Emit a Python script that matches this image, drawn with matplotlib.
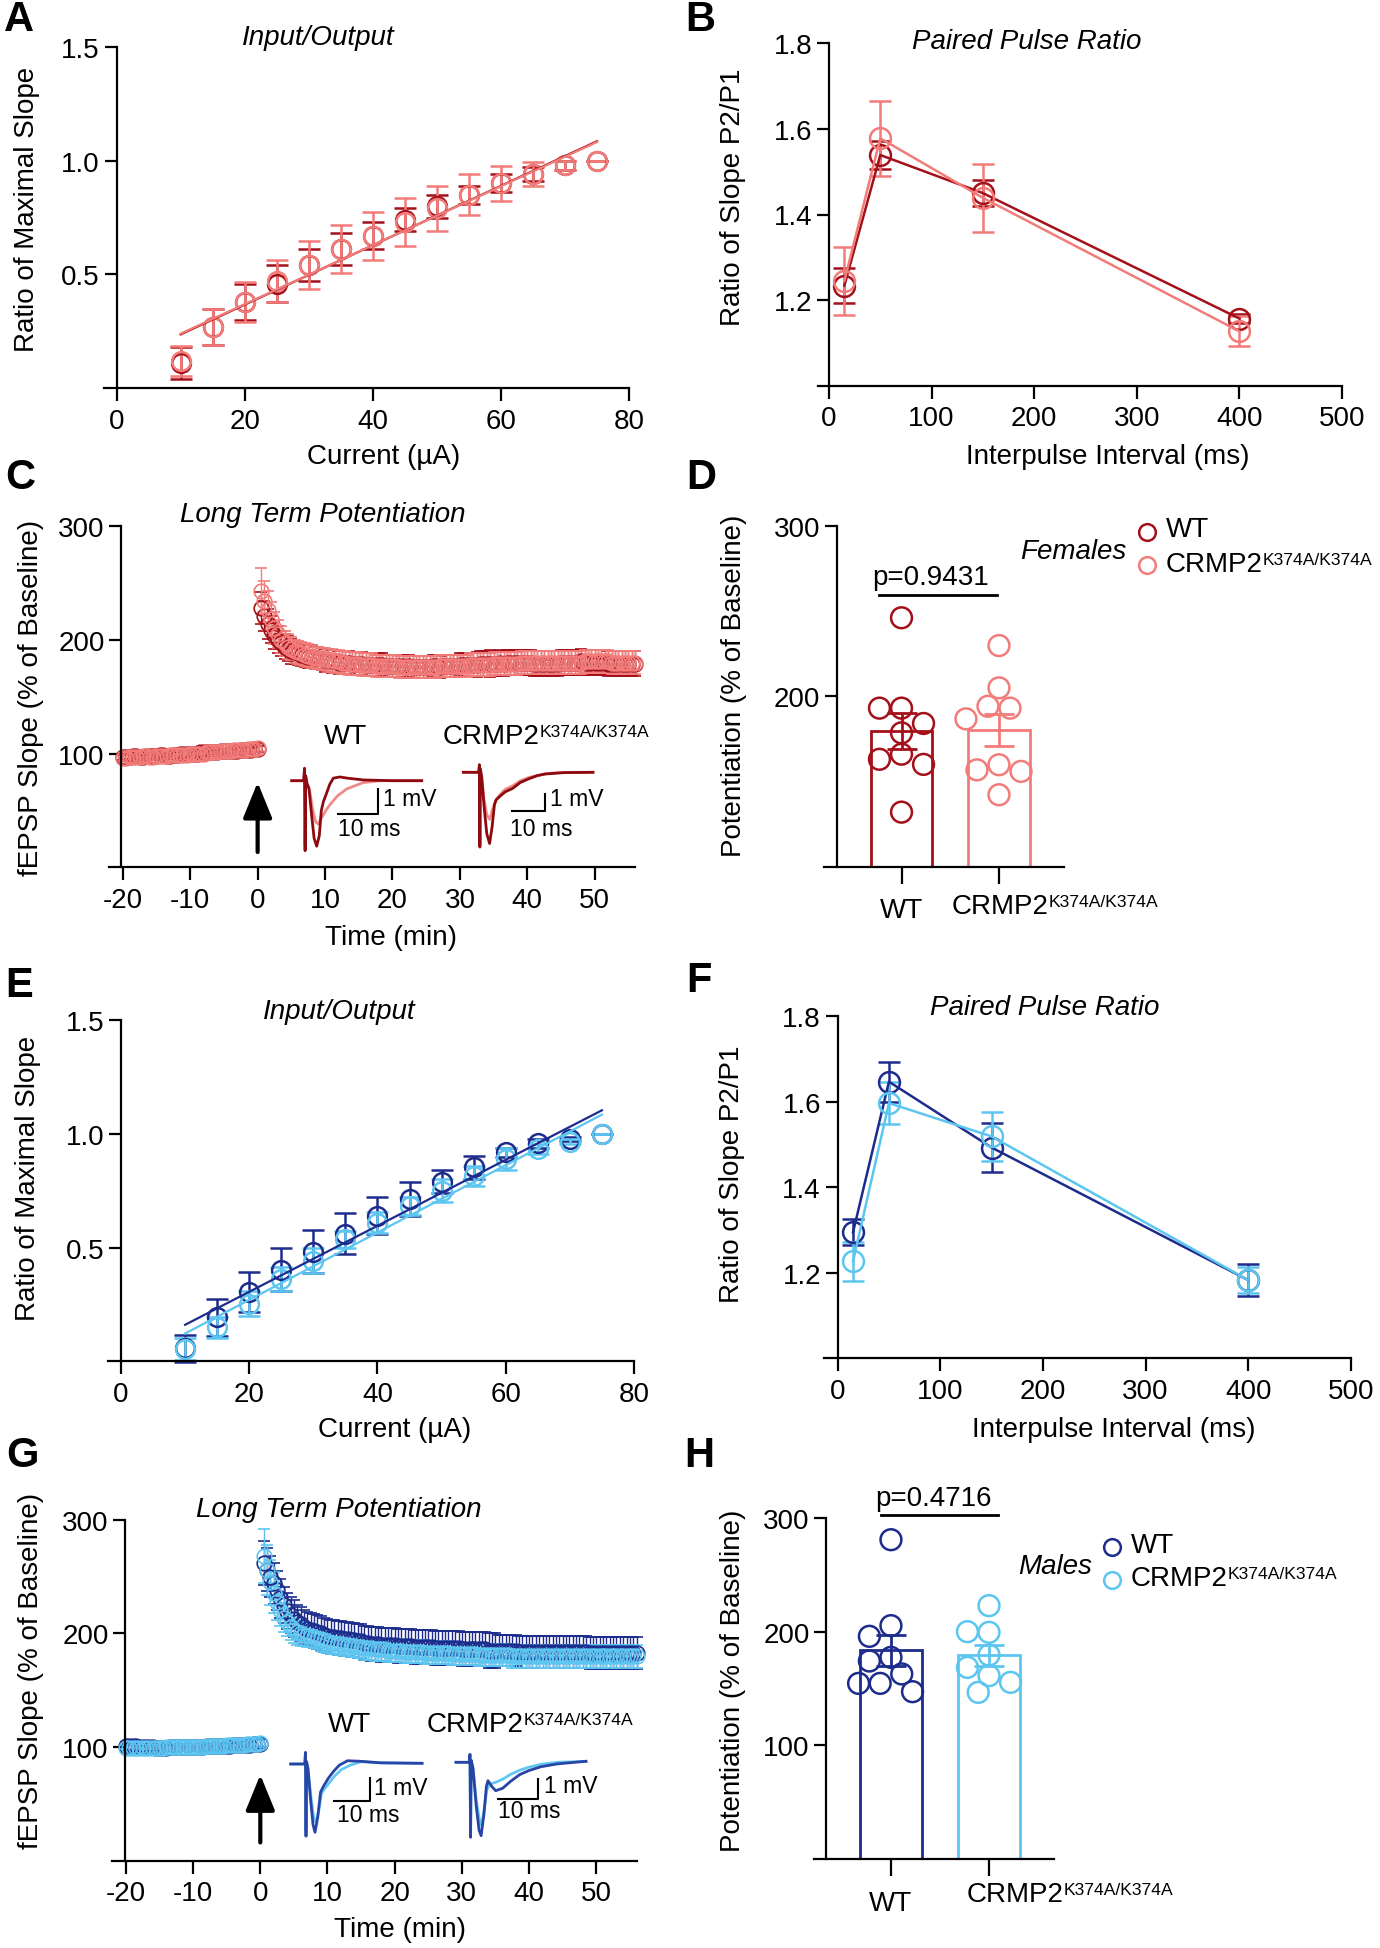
import numpy as np
import matplotlib
matplotlib.use('Agg')
import matplotlib.pyplot as plt
from matplotlib.transforms import Affine2D

plt.rcParams['font.family'] = ['Liberation Sans', 'DejaVu Sans']
plt.rcParams['axes.unicode_minus'] = False

# ---------------- data ----------------
io_current = [10, 15, 20, 25, 30, 35, 40, 45, 50, 55, 60, 65, 70, 75]
fem_io_wt = [0.11, 0.27, 0.38, 0.46, 0.54, 0.61, 0.67, 0.74, 0.80, 0.85, 0.90, 0.94, 0.98, 1.00]
fem_io_wt_sem = [0.07, 0.08, 0.08, 0.08, 0.07, 0.07, 0.06, 0.05, 0.05, 0.04, 0.04, 0.03, 0.02, 0.0]
fem_io_ko = [0.12, 0.27, 0.38, 0.47, 0.54, 0.61, 0.67, 0.73, 0.79, 0.85, 0.90, 0.94, 0.98, 1.00]
fem_io_ko_sem = [0.067, 0.08, 0.088, 0.092, 0.106, 0.105, 0.105, 0.104, 0.10, 0.09, 0.078, 0.053, 0.02, 0.0]

male_io_wt = [0.057, 0.193, 0.303, 0.403, 0.482, 0.56, 0.64, 0.713, 0.789, 0.852, 0.918, 0.958, 0.977, 1.0]
male_io_wt_sem = [0.058, 0.08, 0.088, 0.095, 0.093, 0.09, 0.082, 0.073, 0.05, 0.05, 0.02, 0.02, 0.01, 0.0]
male_io_ko = [0.054, 0.149, 0.252, 0.362, 0.442, 0.537, 0.61, 0.684, 0.75, 0.815, 0.889, 0.933, 0.965, 1.0]
male_io_ko_sem = [0.048, 0.046, 0.055, 0.051, 0.055, 0.037, 0.048, 0.04, 0.05, 0.044, 0.048, 0.02, 0.01, 0.0]

ppr_interval = [15, 50, 150, 400]
fem_ppr_wt = [1.234, 1.539, 1.450, 1.157]
fem_ppr_wt_sem = [0.04, 0.033, 0.03, 0.01]
fem_ppr_ko = [1.245, 1.578, 1.439, 1.127]
fem_ppr_ko_sem = [0.08, 0.087, 0.08, 0.035]
male_ppr_wt = [1.295, 1.647, 1.493, 1.183]
male_ppr_wt_sem = [0.03, 0.047, 0.057, 0.037]
male_ppr_ko = [1.227, 1.597, 1.519, 1.183]
male_ppr_ko_sem = [0.046, 0.049, 0.058, 0.03]

# LTP time courses, one sweep every 30 s: baseline -20..0 min, post-tetanus 0.5..56 min
base_t = np.arange(-20, 0.01, 0.5)
post_t = np.arange(0.5, 56.01, 0.5)

fem_base_wt = [97, 97, 97, 98, 98, 97, 97, 98, 98, 98,
               98, 99, 99, 98, 98, 99, 99, 100, 100, 100,
               100, 100, 100, 101, 101, 101, 101, 101, 101, 102,
               102, 102, 102, 102, 102, 103, 103, 103, 103, 104,
               104]
fem_base_wt_sem = [3, 3, 2, 3, 3, 3, 2, 3, 3, 3,
                   3, 2, 3, 3, 3, 3, 2, 3, 3, 3,
                   3, 3, 2, 3, 3, 3, 3, 2, 3, 3,
                   3, 3, 2, 3, 3, 3, 3, 3, 2, 3,
                   3]
fem_base_ko = [96, 96, 97, 97, 97, 97, 98, 98, 97, 97,
               98, 98, 98, 98, 99, 99, 99, 99, 99, 99,
               100, 100, 100, 100, 100, 101, 101, 101, 101, 102,
               102, 102, 102, 103, 103, 103, 103, 104, 104, 104,
               105]
fem_base_ko_sem = [3, 3, 3, 2, 3, 3, 3, 3, 2, 3,
                   3, 3, 3, 2, 3, 3, 3, 3, 3, 2,
                   3, 3, 3, 3, 2, 3, 3, 3, 3, 3,
                   2, 3, 3, 3, 3, 3, 2, 3, 3, 3,
                   3]
fem_post_wt = [228, 221, 214, 209, 204, 200, 197, 194, 192, 190,
               189, 188, 187, 186, 185, 185, 184, 184, 183, 182,
               182, 181, 181, 180, 180, 180, 180, 179, 179, 179,
               179, 178, 178, 178, 178, 178, 178, 177, 177, 177,
               177, 177, 177, 176, 177, 176, 176, 176, 176, 176,
               176, 177, 177, 176, 177, 177, 177, 177, 177, 178,
               178, 178, 178, 178, 178, 179, 179, 179, 179, 179,
               179, 180, 179, 180, 180, 180, 180, 180, 180, 180,
               180, 179, 179, 179, 179, 179, 179, 179, 179, 180,
               180, 180, 180, 180, 180, 181, 180, 180, 180, 180,
               180, 180, 180, 179, 179, 179, 179, 179, 179, 179,
               179, 179]
fem_post_wt_sem = [14, 13, 13, 12, 12, 12, 11, 11, 11, 11,
                   10, 10, 10, 10, 10, 10, 10, 10, 10, 10,
                   10, 10, 10, 10, 10, 10, 10, 10, 10, 10,
                   10, 10, 10, 10, 10, 10, 10, 10, 10, 10,
                   10, 10, 10, 10, 10, 10, 10, 10, 10, 10,
                   10, 10, 10, 10, 10, 10, 10, 10, 10, 10,
                   10, 10, 10, 10, 11, 11, 11, 11, 12, 11,
                   11, 11, 11, 11, 11, 11, 11, 11, 11, 11,
                   11, 11, 11, 11, 11, 11, 11, 11, 11, 11,
                   11, 11, 11, 11, 11, 11, 11, 11, 11, 11,
                   11, 11, 11, 11, 11, 11, 11, 11, 11, 11,
                   11, 11]
fem_post_ko = [243, 234, 226, 218, 210, 205, 200, 197, 194, 192,
               190, 189, 188, 187, 186, 185, 184, 184, 183, 183,
               182, 182, 181, 181, 180, 180, 179, 179, 179, 179,
               178, 178, 178, 178, 177, 177, 177, 177, 177, 177,
               177, 176, 176, 176, 176, 176, 176, 176, 176, 176,
               176, 176, 176, 177, 177, 177, 177, 177, 177, 177,
               177, 177, 178, 178, 178, 178, 178, 178, 178, 179,
               179, 179, 179, 179, 179, 179, 179, 180, 180, 180,
               180, 180, 180, 180, 180, 180, 180, 180, 180, 180,
               180, 180, 180, 180, 180, 180, 181, 181, 181, 181,
               181, 181, 181, 181, 180, 180, 180, 180, 180, 180,
               180, 180]
fem_post_ko_sem = [20, 18, 17, 15, 14, 12, 12, 11, 11, 10,
                   10, 10, 10, 10, 10, 10, 10, 10, 10, 10,
                   10, 10, 10, 10, 10, 10, 10, 10, 10, 10,
                   10, 10, 10, 10, 10, 10, 10, 10, 10, 10,
                   10, 10, 10, 10, 10, 10, 10, 10, 10, 10,
                   10, 10, 10, 10, 10, 10, 10, 10, 10, 10,
                   10, 10, 10, 10, 10, 10, 10, 10, 10, 10,
                   10, 10, 10, 10, 10, 10, 10, 10, 10, 10,
                   10, 10, 10, 10, 10, 10, 10, 10, 10, 10,
                   10, 10, 10, 10, 10, 10, 10, 10, 10, 10,
                   10, 10, 10, 10, 10, 10, 10, 10, 10, 10,
                   10, 10]

male_base_wt = [101, 101, 101, 101, 100, 100, 100, 100, 100, 99,
                99, 99, 99, 100, 100, 100, 100, 100, 100, 100,
                100, 100, 100, 100, 101, 101, 101, 101, 101, 101,
                101, 101, 102, 102, 102, 102, 102, 102, 103, 103,
                103]
male_base_wt_sem = [4, 4, 3, 3, 3, 3, 3, 3, 3, 3,
                    3, 3, 3, 3, 3, 3, 3, 3, 3, 3,
                    3, 3, 3, 3, 3, 3, 3, 3, 3, 3,
                    3, 3, 3, 3, 3, 3, 3, 3, 3, 4,
                    4]
male_base_ko = [99, 99, 99, 99, 99, 99, 99, 99, 99, 99,
                99, 99, 100, 100, 100, 100, 100, 100, 100, 100,
                100, 100, 100, 100, 101, 101, 101, 101, 101, 101,
                102, 102, 102, 102, 102, 102, 103, 103, 103, 103,
                104]
male_base_ko_sem = [3, 3, 3, 3, 3, 3, 3, 3, 3, 3,
                    3, 3, 3, 3, 3, 3, 3, 3, 3, 3,
                    3, 3, 3, 3, 3, 3, 3, 3, 3, 3,
                    3, 3, 3, 3, 3, 3, 3, 3, 3, 3,
                    3]
male_post_wt = [262, 256, 250, 244, 238, 231, 225, 220, 216, 213,
                210, 208, 206, 204, 203, 202, 201, 200, 199, 198,
                197, 197, 196, 196, 195, 195, 194, 194, 193, 193,
                192, 192, 191, 191, 191, 190, 190, 190, 190, 190,
                189, 189, 189, 189, 189, 188, 188, 188, 188, 188,
                188, 187, 187, 187, 187, 187, 187, 187, 187, 186,
                186, 186, 186, 186, 186, 186, 186, 185, 185, 185,
                185, 185, 185, 185, 185, 185, 184, 184, 184, 184,
                184, 184, 184, 184, 184, 184, 184, 184, 184, 184,
                184, 184, 184, 184, 184, 184, 184, 183, 183, 183,
                183, 183, 183, 183, 183, 183, 183, 183, 183, 183,
                183, 183]
male_post_wt_sem = [19, 19, 18, 18, 17, 17, 16, 16, 16, 16,
                    15, 15, 15, 15, 15, 15, 15, 15, 15, 15,
                    15, 15, 15, 15, 15, 15, 15, 15, 15, 15,
                    15, 15, 15, 15, 15, 15, 15, 15, 15, 15,
                    15, 15, 15, 15, 15, 15, 15, 15, 15, 15,
                    15, 15, 15, 15, 15, 15, 15, 15, 15, 15,
                    15, 15, 15, 15, 15, 15, 15, 15, 15, 15,
                    14, 14, 14, 14, 14, 14, 14, 14, 14, 14,
                    14, 14, 14, 14, 14, 14, 14, 14, 14, 14,
                    14, 14, 14, 14, 14, 14, 14, 14, 14, 14,
                    14, 14, 14, 14, 14, 14, 14, 14, 14, 14,
                    14, 14]
male_post_ko = [268, 256, 245, 236, 228, 221, 214, 210, 206, 203,
                201, 200, 199, 198, 198, 197, 196, 195, 194, 193,
                192, 192, 191, 191, 190, 190, 189, 189, 188, 188,
                187, 187, 187, 186, 186, 186, 186, 185, 185, 185,
                185, 185, 184, 184, 184, 184, 184, 184, 183, 183,
                183, 183, 183, 183, 183, 183, 182, 182, 182, 182,
                182, 182, 182, 182, 181, 181, 181, 181, 181, 181,
                181, 181, 181, 181, 180, 180, 180, 180, 180, 180,
                180, 180, 180, 180, 180, 180, 180, 180, 180, 180,
                180, 180, 180, 180, 180, 180, 180, 180, 180, 180,
                180, 180, 180, 180, 180, 180, 180, 180, 180, 180,
                180, 180]
male_post_ko_sem = [24, 22, 20, 18, 16, 14, 13, 12, 12, 11,
                    11, 11, 10, 10, 10, 10, 10, 10, 10, 10,
                    10, 10, 10, 10, 10, 10, 10, 10, 10, 10,
                    10, 10, 10, 10, 10, 10, 10, 10, 10, 10,
                    10, 10, 10, 10, 10, 10, 10, 10, 10, 10,
                    10, 10, 10, 10, 10, 10, 10, 10, 10, 10,
                    10, 10, 10, 10, 10, 10, 10, 10, 10, 10,
                    10, 10, 10, 10, 10, 10, 10, 10, 10, 10,
                    10, 10, 10, 10, 10, 10, 10, 10, 10, 10,
                    10, 10, 10, 10, 10, 10, 10, 10, 10, 10,
                    10, 10, 10, 10, 10, 10, 10, 10, 10, 10,
                    10, 10]

# potentiation per slice
fem_pot_wt = [246, 193, 193, 184, 178.5, 166, 163, 160, 132]
fem_pot_ko = [229.7, 204.9, 194.1, 193, 186.7, 159.8, 156.8, 155.9, 142.2]
male_pot_wt = [280.9, 205.3, 195.9, 177.4, 174.2, 162.8, 154.5, 154.5, 147.2]
male_pot_ko = [222.9, 199.4, 200, 179.5, 168.6, 161.3, 155.4, 146.6]
p_fem = 'p=0.9431'
p_male = 'p=0.4716'

# example fEPSP traces (ms, mV)
fw_dark_t = [0, 3.0, 3.2, 3.35, 3.5, 3.8, 4.3, 5.0, 5.6, 6.25, 6.9, 7.4, 7.9, 8.6, 9.5, 10.4, 12, 14, 18, 25, 32.5]
fw_dark_v = [0, 0, 0.5, -2.8, 0.2, -0.1, -0.3, -1.4, -2.3, -2.62, -2.2, -1.2, -0.85, -0.55, -0.15, 0.1, 0.15, 0.1, 0.03, 0, 0]
fw_light_t = [0, 3.0, 3.2, 3.35, 3.5, 3.8, 4.5, 5.3, 6.0, 6.6, 7.4, 8.5, 9.6, 11.5, 13.75, 17.8, 22, 32.5]
fw_light_v = [0, 0, 0.4, -2.6, 0.1, -0.1, -0.4, -1.2, -1.65, -1.73, -1.5, -1.2, -0.95, -0.6, -0.33, -0.08, 0, 0]
fk_dark_t = [0, 4.6, 4.8, 4.95, 5.1, 5.5, 6.2, 7.0, 7.85, 8.6, 9.3, 9.8, 11, 12.5, 14.7, 17, 19.6, 22, 24.5, 30, 38.7]
fk_dark_v = [0, 0, 0.45, -4.4, 0.2, -0.3, -2.0, -3.6, -4.19, -3.2, -1.9, -1.62, -1.4, -1.15, -0.95, -0.6, -0.38, -0.2, -0.1, -0.02, 0]
fk_light_t = [0, 4.6, 4.8, 4.95, 5.1, 5.5, 6.2, 7.0, 7.9, 8.7, 9.8, 11, 12.5, 14.7, 17, 19.6, 24.5, 30, 38.7]
fk_light_v = [0, 0, 0.4, -4.2, 0.1, -0.3, -1.6, -2.5, -2.77, -2.2, -1.62, -1.3, -1.0, -0.8, -0.5, -0.3, -0.08, 0, 0]
mw_dark_t = [0, 3.9, 4.1, 4.25, 4.4, 4.8, 5.5, 6.2, 6.75, 7.5, 8.3, 9.2, 10.5, 12, 13.5, 15.8, 19, 25, 36.5]
mw_dark_v = [0, 0, 0.5, -3.1, 0.1, -0.2, -1.5, -2.6, -2.93, -2.3, -1.2, -0.93, -0.6, -0.3, -0.05, 0.14, 0.12, 0.05, 0.03]
mw_light_t = [0, 3.9, 4.1, 4.25, 4.4, 4.8, 5.6, 6.4, 7.0, 7.8, 8.5, 9.2, 10.5, 12, 14, 16.5, 19.6, 25, 36.5]
mw_light_v = [0, 0, 0.4, -2.9, 0.1, -0.2, -1.4, -2.3, -2.5, -2.0, -1.3, -1.1, -0.85, -0.55, -0.25, -0.05, 0.1, 0.05, 0.03]
mk_dark_t = [0, 3.3, 3.45, 3.6, 3.75, 4.2, 5.0, 5.7, 6.2, 6.9, 7.5, 7.9, 8.8, 9.8, 11.5, 13.5, 15.7, 17.9, 21, 25, 32.1]
mk_dark_v = [0, 0, 0.4, -3.75, 0.1, -0.3, -2.2, -3.4, -3.67, -2.6, -1.2, -0.92, -1.2, -1.42, -1.3, -0.95, -0.62, -0.42, -0.22, -0.08, 0.05]
mk_light_t = [0, 3.3, 3.45, 3.6, 3.75, 4.2, 5.0, 5.8, 6.3, 7.0, 7.6, 8.2, 9.8, 11.5, 13.5, 15.7, 17.9, 21, 25, 32.1]
mk_light_v = [0, 0, 0.35, -3.5, 0.1, -0.3, -1.9, -2.9, -3.17, -2.3, -1.4, -1.1, -1.0, -0.85, -0.6, -0.4, -0.25, -0.1, 0, 0.05]

KO_BASE, KO_SUP = 'CRMP2', 'K374A/K374A'
F_WT, F_KO = '#A3101A', '#F27C7A'
M_WT, M_KO = '#1D2C8C', '#5CC6F0'
F_WT_TR, F_KO_TR = '#8C0A10', '#F08A88'
M_WT_TR, M_KO_TR = '#2845A5', '#62C8F2'

# ---------------- figure ----------------
W, H = 1380, 1949
fig = plt.figure(figsize=(W / 100, H / 100), dpi=100)
PX = Affine2D().scale(1 / W, -1 / H).translate(0, 1) + fig.transFigure


def px_ax(l, t, r, b):
    return fig.add_axes([l / W, 1 - b / H, (r - l) / W, (b - t) / H])


def style(ax, xspine):
    for s in ('top', 'right'):
        ax.spines[s].set_visible(False)
    ax.spines['left'].set_position(('data', xspine))
    for s in ('left', 'bottom'):
        ax.spines[s].set_linewidth(1.6)
    ax.tick_params(direction='out', length=9, width=1.6, labelsize=20, pad=3)
    ax.tick_params(axis='x', pad=5)


def labels(ax, ylab, yx, yy, xlab=None, xx=None, xy=None):
    ax.set_ylabel(ylab, fontsize=20, va='center', ha='center')
    ax.yaxis.set_label_coords(yx / W, 1 - yy / H, transform=fig.transFigure)
    if xlab:
        ax.set_xlabel(xlab, fontsize=20, va='center', ha='center')
        ax.xaxis.set_label_coords(xx / W, 1 - xy / H, transform=fig.transFigure)


def title(s, x, y):
    fig.text(x, y, s, transform=PX, ha='center', va='center', fontsize=20, style='italic')


def ko_text(ax, x, y, ha='left'):
    # "CRMP2" with a small raised genotype superscript
    t = fig.text(x, y, KO_BASE, transform=PX, fontsize=20, ha=ha, va='center')
    ax.annotate(KO_SUP, xy=(1, 0.5), xycoords=t, xytext=(0, 0), textcoords='offset points',
                fontsize=12.6, ha='left', va='baseline', annotation_clip=False)


def eb(ax, x, y, e, color, ms, fmt='o', cap=8, lw=1.8, elw=1.8, mew=1.8, z=2):
    cont = ax.errorbar(x, y, yerr=e, fmt=fmt, color=color, lw=lw, ms=ms, mfc='none', mec=color,
                       mew=mew, ecolor=color, elinewidth=elw, capsize=cap, capthick=elw, zorder=z)
    for a in cont.get_children():
        a.set_clip_on(False)
    return cont


def swarm(vals, step_px, diam_px, px_per_unit):
    placed, offs = [], []
    for v in vals:
        for k in (0, -0.5, 0.5, -1, 1, -1.5, 1.5, -2, 2):
            if all(((k - k2) * step_px) ** 2 + ((v - v2) * px_per_unit) ** 2 >= diam_px ** 2
                   for k2, v2 in placed):
                break
        placed.append((k, v))
        offs.append(k)
    return np.array(offs)


def io_panel(ax, wt, wt_e, ko, ko_e, cwt, cko):
    eb(ax, io_current, wt, wt_e, cwt, 13.5)
    eb(ax, io_current, ko, ko_e, cko, 13.5)
    xs = np.array([10, 75])
    for vals, c in ((wt, cwt), (ko, cko)):
        fit = np.polyfit(io_current, vals, 1)
        ax.plot(xs, np.polyval(fit, xs), color=c, lw=1.6, zorder=3)
    ax.set_ylim(0, 1.5)
    ax.set_yticks([0.5, 1.0, 1.5])
    ax.set_xticks([0, 20, 40, 60, 80])


def ppr_panel(ax, wt, wt_e, ko, ko_e, cwt, cko):
    eb(ax, ppr_interval, wt, wt_e, cwt, 15, fmt='-o')
    eb(ax, ppr_interval, ko, ko_e, cko, 15, fmt='-o')
    ax.set_ylim(1.0, 1.8)
    ax.set_yticks([1.2, 1.4, 1.6, 1.8])
    ax.set_xticks([0, 100, 200, 300, 400, 500])


def ltp_panel(ax, series, arrow):
    for t, v, e, c in series:
        eb(ax, t, v, e, c, 10.5, cap=4, elw=1.0, mew=1.2)
    ax.set_ylim(0, 300)
    ax.set_yticks([100, 200, 300])
    ax.set_xticks(np.arange(-20, 51, 10))
    ax.annotate('', xy=(0, arrow[1]), xytext=(0, arrow[0]),
                arrowprops=dict(arrowstyle='-|>,head_width=0.45,head_length=1.1', lw=3,
                                color='k', mutation_scale=20, shrinkA=0, shrinkB=0))


def trace_inset(x0, y0, pxms, pxmv, light, dark, cl, cd, bar, mv_txt, ms_txt):
    tmin, tmax, vmin, vmax = -1, 42, -5, 1.5
    ax = px_ax(x0 + tmin * pxms, y0 - vmax * pxmv, x0 + tmax * pxms, y0 - vmin * pxmv)
    ax.set_xlim(tmin, tmax)
    ax.set_ylim(vmin, vmax)
    ax.axis('off')
    ax.plot(light[0], light[1], color=cl, lw=2.0)
    ax.plot(dark[0], dark[1], color=cd, lw=2.0)
    b0, bv = bar
    ax.plot([b0, b0 + 10, b0 + 10], [bv, bv, bv + 1], color='k', lw=1.5)
    ax.text(mv_txt[0], mv_txt[1], '1 mV', fontsize=16.5, ha='left', va='center')
    ax.text(ms_txt[0], ms_txt[1], '10 ms', fontsize=16.5, ha='left', va='center')


def pot_panel(ax, wt, ko, cwt, cko, ppx, step, ticks, ylim, ko_xy):
    for i, (vals, c) in enumerate(((wt, cwt), (ko, cko))):
        m = np.mean(vals)
        se = np.std(vals, ddof=1) / np.sqrt(len(vals))
        ax.bar(i, m, width=0.63, color='white', edgecolor=c, linewidth=2, zorder=1)
        ax.errorbar(i, m, yerr=se, fmt='none', ecolor=c, elinewidth=2, capsize=11,
                    capthick=2, zorder=2)
        offs = swarm(vals, 22, 19, ppx)
        ax.scatter(i + offs * step, vals, s=225, facecolors='none', edgecolors=c,
                   linewidths=1.8, zorder=3, clip_on=False)
    ax.set_ylim(*ylim)
    ax.set_yticks(ticks)
    ax.set_xticks([0, 1])
    ax.set_xticklabels(['WT', ''])
    ax.tick_params(axis='x', length=12, pad=10)
    ko_text(ax, ko_xy[0], ko_xy[1], ha='center')


def legend_block(ax, cx, y_wt, y_ko, tx, ty_wt, ty_ko, sex, sx, sy, cwt, cko):
    for y, c in ((y_wt, cwt), (y_ko, cko)):
        ax.plot([cx], [y], 'o', ms=12, mfc='none', mec=c, mew=1.8, clip_on=False)
    fig.text(tx, ty_wt, 'WT', transform=PX, fontsize=20, ha='left', va='center')
    ko_text(ax, tx, ty_ko)
    fig.text(sx, sy, sex, transform=PX, fontsize=20, ha='right', va='center', style='italic')


# ---- A ----
axA = px_ax(104.4, 47.7, 629, 389.3)
axA.set_xlim(-1.9, 80)
style(axA, 0)
io_panel(axA, fem_io_wt, fem_io_wt_sem, fem_io_ko, fem_io_ko_sem, F_WT, F_KO)
labels(axA, 'Ratio of Maximal Slope', 27, 209, 'Current (µA)', 384, 457)
title('Input/Output', 318, 38)

# ---- B ----
axB = px_ax(817.6, 44.3, 1342, 386.7)
axB.set_xlim(-11.1, 500)
style(axB, 0)
ppr_panel(axB, fem_ppr_wt, fem_ppr_wt_sem, fem_ppr_ko, fem_ppr_ko_sem, F_WT, F_KO)
labels(axB, 'Ratio of Slope P2/P1', 733, 197, 'Interpulse Interval (ms)', 1108, 457)
title('Paired Pulse Ratio', 1027, 42)

# ---- C ----
axC = px_ax(109.3, 527, 635.2, 868.3)
axC.set_xlim(-22.0, 56.0)
style(axC, -20.2)
ltp_panel(axC, [(base_t, fem_base_wt, fem_base_wt_sem, F_WT), (post_t, fem_post_wt, fem_post_wt_sem, F_WT),
                (base_t, fem_base_ko, fem_base_ko_sem, F_KO), (post_t, fem_post_ko, fem_post_ko_sem, F_KO)],
          (13.4, 74.6))
labels(axC, 'fEPSP Slope (% of Baseline)', 31, 698, 'Time (min)', 391, 938)
title('Long Term Potentiation', 323, 515)
fig.text(346, 737, 'WT', transform=PX, fontsize=20, ha='center', va='center')
ko_text(axC, 443, 737)
trace_inset(291.7, 781.7, 4.0, 25.0, (fw_light_t, fw_light_v), (fw_dark_t, fw_dark_v), F_KO_TR, F_WT_TR,
            (11.65, -1.33), (22.9, -0.73), (11.65, -1.93))
trace_inset(463.3, 773.3, 3.35, 17.0, (fk_light_t, fk_light_v), (fk_dark_t, fk_dark_v), F_KO_TR, F_WT_TR,
            (14.4, -2.26), (25.9, -1.57), (14.0, -3.33))

# ---- D ----
axD = px_ax(824, 526.7, 1064.4, 867.7)
axD.set_xlim(-0.795, 1.671)
style(axD, -0.665)
pot_panel(axD, fem_pot_wt, fem_pot_ko, F_WT, F_KO, 1.705, 0.226, [200, 300], (100, 300), (1000, 907))
labels(axD, 'Potentiation (% of Baseline)', 734, 686)
axD.plot([-0.23, 0.98], [259.6, 259.6], color='k', lw=2, clip_on=False)
axD.text(0.30, 270, p_fem, fontsize=20, ha='center', va='center')
legend_block(axD, 2.516, 296.2, 277.2, 1166, 530, 565, 'Females', 1126, 552, F_WT, F_KO)

# ---- E ----
axE = px_ax(107.9, 1021, 634, 1362.3)
axE.set_xlim(-2.04, 80)
style(axE, 0)
io_panel(axE, male_io_wt, male_io_wt_sem, male_io_ko, male_io_ko_sem, M_WT, M_KO)
labels(axE, 'Ratio of Maximal Slope', 28, 1178, 'Current (µA)', 395, 1430)
title('Input/Output', 339, 1012)

# ---- F ----
axF = px_ax(824.4, 1017.3, 1350.8, 1359.3)
axF.set_xlim(-12.9, 500)
style(axF, 0)
ppr_panel(axF, male_ppr_wt, male_ppr_wt_sem, male_ppr_ko, male_ppr_ko_sem, M_WT, M_KO)
labels(axF, 'Ratio of Slope P2/P1', 732, 1174, 'Interpulse Interval (ms)', 1114, 1430)
title('Paired Pulse Ratio', 1045, 1008)

# ---- G ----
axG = px_ax(112.2, 1520.7, 637.2, 1862)
axG.set_xlim(-22.04, 56.09)
style(axG, -20.1)
ltp_panel(axG, [(base_t, male_base_wt, male_base_wt_sem, M_WT), (post_t, male_post_wt, male_post_wt_sem, M_WT),
                (base_t, male_base_ko, male_base_ko_sem, M_KO), (post_t, male_post_ko, male_post_ko_sem, M_KO)],
          (16.3, 75.8))
labels(axG, 'fEPSP Slope (% of Baseline)', 31, 1671, 'Time (min)', 400, 1930)
title('Long Term Potentiation', 339, 1510)
fig.text(349, 1725, 'WT', transform=PX, fontsize=20, ha='center', va='center')
ko_text(axG, 427, 1725)
trace_inset(290.7, 1765, 3.6, 23.3, (mw_light_t, mw_light_v), (mw_dark_t, mw_dark_v), M_KO_TR, M_WT_TR,
            (12.0, -1.58), (23.25, -1.0), (12.9, -2.15))
trace_inset(456, 1763.3, 4.05, 20.0, (mk_light_t, mk_light_v), (mk_dark_t, mk_dark_v), M_KO_TR, M_WT_TR,
            (10.3, -1.83), (21.7, -1.17), (10.3, -2.42))

# ---- H ----
axH = px_ax(814, 1519, 1054.4, 1860)
axH.set_xlim(-0.785, 1.667)
style(axH, -0.66)
pot_panel(axH, male_pot_wt, male_pot_ko, M_WT, M_KO, 1.137, 0.22, [100, 200, 300], (0, 300), (1015, 1895))
labels(axH, 'Potentiation (% of Baseline)', 733, 1681)
axH.plot([-0.10, 1.09], [302.6, 302.6], color='k', lw=2, clip_on=False)
axH.text(0.43, 317.3, p_male, fontsize=20, ha='center', va='center', clip_on=False)
legend_block(axH, 2.25, 274.1, 245.6, 1130.5, 1546, 1579, 'Males', 1092, 1567, M_WT, M_KO)

# panel letters
for s, x, y in (('A', 19, 20), ('B', 700, 20), ('C', 20, 478), ('D', 701, 478),
                ('E', 19, 986), ('F', 699, 981), ('G', 22, 1456), ('H', 699, 1456)):
    fig.text(x, y, s, transform=PX, fontsize=30, fontweight='bold', ha='center', va='center')

fig.savefig('out.png', dpi=100)
